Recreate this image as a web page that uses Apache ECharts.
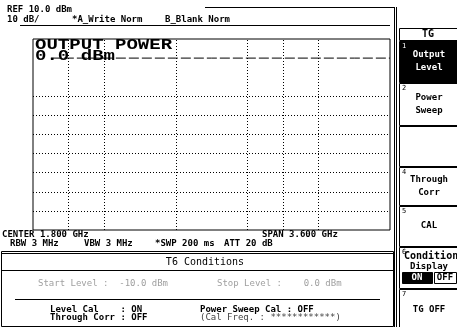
<!DOCTYPE html>
<html>
<head>
<meta charset="utf-8">
<script src="https://cdn.jsdelivr.net/npm/echarts@6/dist/echarts.min.js"></script>
<style>
  html, body { margin: 0; padding: 0; background: #fff; }
  #chart { width: 457px; height: 327px; }
</style>
</head>
<body>
<div id="chart"></div>
<script>
// Analyzer settings
const refLevelDbm = 10;
const dbPerDiv = 10;
const centerGHz = 1.8;
const spanGHz = 3.6;

// Trace A: tracking generator output level across the span
const traceFreqGHz = [0.18, 0.36, 0.72, 1.08, 1.44, 1.8, 2.16, 2.52, 2.88, 3.24, 3.6];
const traceLevelDbm = [0, 0, 0, 0, 0, 0, 0, 0, 0, 0, 0];

// Graticule lines shown on screen
const gridFreqGHz = [0.36, 0.72, 1.44, 2.16, 2.52, 2.88];
const gridLevelDbm = [-20, -30, -40, -50, -60, -70, -80];

// Softkey labels
const softkeys = [
  { num: '1', lines: ['Output', 'Level'], y0: 41, y1: 82, active: true },
  { num: '2', lines: ['Power', 'Sweep'], y0: 83, y1: 125 },
  { num: '', lines: [], y0: 126, y1: 166 },
  { num: '4', lines: ['Through', 'Corr'], y0: 167, y1: 205 },
  { num: '5', lines: ['CAL'], y0: 206, y1: 246 },
  { num: '6', lines: [], y0: 247, y1: 288 },
  { num: '7', lines: ['TG OFF'], y0: 289, y1: 330 }
];

const FONT = '"DejaVu Sans Mono", monospace';
const small = (w) => (w || 'normal') + ' 9px ' + FONT;

const chart = echarts.init(document.getElementById('chart'), null, { renderer: 'canvas' });

const xMin = centerGHz - spanGHz / 2;
const xMax = centerGHz + spanGHz / 2;
const yMax = refLevelDbm;
const yMin = refLevelDbm - 10 * dbPerDiv;

function txt(text, x, y, opts) {
  opts = opts || {};
  return {
    type: 'text', x: x, y: y, z: 10,
    scaleX: opts.scaleX || 1,
    style: {
      text: text,
      font: opts.font || small(opts.weight),
      fill: opts.color || '#000',
      align: opts.align || 'left',
      verticalAlign: 'middle'
    }
  };
}
function hline(x1, x2, y, w, color) {
  return { type: 'line', z: 5, shape: { x1: x1, y1: y + 0.5, x2: x2, y2: y + 0.5 },
    style: { stroke: color || '#000', lineWidth: w || 1 } };
}
function vline(x, y1, y2, w, color) {
  return { type: 'line', z: 5, shape: { x1: x + 0.5, y1: y1, x2: x + 0.5, y2: y2 },
    style: { stroke: color || '#000', lineWidth: w || 1 } };
}
function box(x, y, w, h, fill) {
  return { type: 'rect', z: 4, shape: { x: x + 0.5, y: y + 0.5, width: w, height: h },
    style: { fill: fill || '#fff', stroke: '#000', lineWidth: 1 } };
}

const graphics = [];

// Header
graphics.push(txt('REF 10.0 dBm', 7, 10, { weight: 'bold' }));
graphics.push(txt('10 dB/', 7, 20, { weight: 'bold' }));
graphics.push(txt('*A_Write Norm', 72, 20, { weight: 'bold' }));
graphics.push(txt('B_Blank Norm', 165, 20, { weight: 'bold' }));
graphics.push(hline(20, 390, 25));
graphics.push(hline(205, 395, 7));
graphics.push(vline(394, 7, 327));
graphics.push(vline(396, 7, 327));

// Large readout
graphics.push(txt('OUTPUT POWER', 35, 45, { font: 'bold 14px "Liberation Mono", monospace', scaleX: 1.36 }));
graphics.push(txt('0.0 dBm', 35, 56, { font: 'bold 14px "Liberation Mono", monospace', scaleX: 1.36 }));

// Under-graticule annotations
graphics.push(txt('CENTER 1.800 GHz', 2, 235, { weight: 'bold' }));
graphics.push(txt('SPAN 3.600 GHz', 262, 235, { weight: 'bold' }));
graphics.push(txt('RBW 3 MHz', 10, 244, { weight: 'bold' }));
graphics.push(txt('VBW 3 MHz', 84, 244, { weight: 'bold' }));
graphics.push(txt('*SWP 200 ms', 155, 244, { weight: 'bold' }));
graphics.push(txt('ATT 20 dB', 224, 244, { weight: 'bold' }));

// TG conditions panel
graphics.push(box(1, 251, 392, 75, '#fff'));
graphics.push(hline(1, 393, 253));
graphics.push(hline(1, 393, 270));
graphics.push(txt('T6 Conditions', 205, 262, { align: 'center', font: '10px ' + FONT }));
graphics.push(txt('Start Level :  -10.0 dBm', 38, 284, { color: '#a0a0a0' }));
graphics.push(txt('Stop Level :    0.0 dBm', 217, 284, { color: '#a0a0a0' }));
graphics.push(hline(15, 380, 299));
graphics.push(txt('Level Cal    : ON', 50, 310, { weight: 'bold' }));
graphics.push(txt('Through Corr : OFF', 50, 318, { weight: 'bold' }));
graphics.push(txt('Power Sweep Cal : OFF', 200, 310, { weight: 'bold' }));
graphics.push(txt('(Cal Freq. : ************)', 200, 318, { color: '#444' }));

// Softkey panel
graphics.push(box(399, 28, 60, 12, '#fff'));
graphics.push(txt('TG', 428, 34, { font: 'bold 10px ' + FONT, align: 'center' }));
softkeys.forEach(function (k) {
  const fill = k.active ? '#000' : '#fff';
  const fg = k.active ? '#fff' : '#000';
  graphics.push(box(399, k.y0, 60, k.y1 - k.y0, fill));
  if (k.num) graphics.push(txt(k.num, 402, k.y0 + 5, { font: '7px ' + FONT, color: fg }));
  const n = k.lines.length;
  const mid = (k.y0 + k.y1) / 2;
  k.lines.forEach(function (s, i) {
    graphics.push(txt(s, 429, mid + (i - (n - 1) / 2) * 13, { font: 'bold 9px ' + FONT, color: fg, align: 'center' }));
  });
});
// Condition Display key with ON/OFF selector
graphics.push(txt('Condition', 404, 256, { font: 'bold 10px ' + FONT }));
graphics.push(txt('Display', 429, 267, { font: 'bold 9px ' + FONT, align: 'center' }));
graphics.push(box(402, 272, 30, 11, '#000'));
graphics.push(txt('ON', 417, 278, { font: 'bold 9px ' + FONT, color: '#fff', align: 'center' }));
graphics.push(box(434, 272, 22, 11, '#fff'));
graphics.push(txt('OFF', 445, 278, { font: 'bold 9px ' + FONT, align: 'center' }));

chart.setOption({
  animation: false,
  backgroundColor: '#fff',
  grid: { left: 33, top: 39, width: 357, height: 191, show: true, borderColor: '#000', borderWidth: 1, backgroundColor: 'transparent' },
  xAxis: {
    type: 'value', min: xMin, max: xMax, interval: spanGHz / 10,
    axisLine: { show: false }, axisTick: { show: false }, axisLabel: { show: false }, splitLine: { show: false }
  },
  yAxis: {
    type: 'value', min: yMin, max: yMax, interval: dbPerDiv,
    axisLine: { show: false }, axisTick: { show: false }, axisLabel: { show: false }, splitLine: { show: false }
  },
  series: [
    {
      name: 'graticule', type: 'line', data: [], silent: true,
      markLine: {
        silent: true, symbol: 'none', animation: false,
        label: { show: false },
        lineStyle: { color: '#000', type: [1, 2], width: 1 },
        data: gridFreqGHz.map(v => ({ xAxis: v })).concat(gridLevelDbm.map(v => ({ yAxis: v })))
      }
    },
    {
      name: 'A', type: 'line', showSymbol: false, silent: true,
      data: traceFreqGHz.map((f, i) => [f, traceLevelDbm[i]]),
      lineStyle: { color: '#000', width: 1, type: [10, 3] }
    }
  ],
  graphic: graphics
});
</script>
</body>
</html>
